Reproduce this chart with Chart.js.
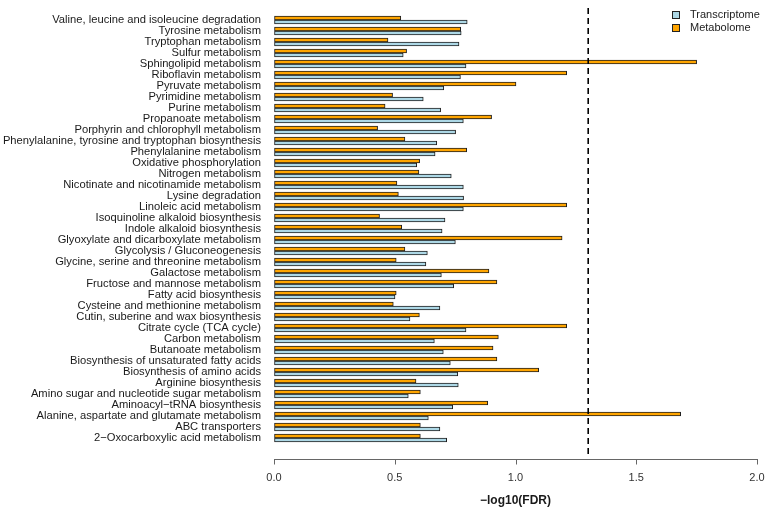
<!DOCTYPE html>
<html>
<head>
<meta charset="utf-8">
<script src="https://cdn.jsdelivr.net/npm/chart.js@4"></script>
<style>
  body { margin: 0; background: #fff; }
  canvas { display: block; }
</style>
</head>
<body>
<canvas id="fdrChart" width="767" height="513"></canvas>
<script>
var pathways = [
    'Valine, leucine and isoleucine degradation',
    'Tyrosine metabolism',
    'Tryptophan metabolism',
    'Sulfur metabolism',
    'Sphingolipid metabolism',
    'Riboflavin metabolism',
    'Pyruvate metabolism',
    'Pyrimidine metabolism',
    'Purine metabolism',
    'Propanoate metabolism',
    'Porphyrin and chlorophyll metabolism',
    'Phenylalanine, tyrosine and tryptophan biosynthesis',
    'Phenylalanine metabolism',
    'Oxidative phosphorylation',
    'Nitrogen metabolism',
    'Nicotinate and nicotinamide metabolism',
    'Lysine degradation',
    'Linoleic acid metabolism',
    'Isoquinoline alkaloid biosynthesis',
    'Indole alkaloid biosynthesis',
    'Glyoxylate and dicarboxylate metabolism',
    'Glycolysis / Gluconeogenesis',
    'Glycine, serine and threonine metabolism',
    'Galactose metabolism',
    'Fructose and mannose metabolism',
    'Fatty acid biosynthesis',
    'Cysteine and methionine metabolism',
    'Cutin, suberine and wax biosynthesis',
    'Citrate cycle (TCA cycle)',
    'Carbon metabolism',
    'Butanoate metabolism',
    'Biosynthesis of unsaturated fatty acids',
    'Biosynthesis of amino acids',
    'Arginine biosynthesis',
    'Amino sugar and nucleotide sugar metabolism',
    'Aminoacyl\u2212tRNA biosynthesis',
    'Alanine, aspartate and glutamate metabolism',
    'ABC transporters',
    '2\u2212Oxocarboxylic acid metabolism'
];

var transcriptome = [
    0.80, 0.775, 0.766, 0.535, 0.795, 0.772, 0.703, 0.618, 0.690, 0.784,
    0.752, 0.674, 0.667, 0.591, 0.734, 0.784, 0.785, 0.784, 0.708, 0.696,
    0.751, 0.635, 0.629, 0.693, 0.744, 0.501, 0.687, 0.563, 0.795, 0.664,
    0.701, 0.730, 0.761, 0.763, 0.556, 0.740, 0.639, 0.687, 0.715
];

var metabolome = [
    0.525, 0.773, 0.472, 0.549, 1.750, 1.212, 1.002, 0.491, 0.460, 0.901,
    0.429, 0.542, 0.798, 0.603, 0.600, 0.509, 0.515, 1.212, 0.437, 0.529,
    1.193, 0.542, 0.506, 0.890, 0.923, 0.506, 0.494, 0.602, 1.212, 0.929,
    0.907, 0.923, 1.096, 0.588, 0.606, 0.885, 1.684, 0.606, 0.606
];

var xTicks = [0, 0.5, 1, 1.5, 2];
var fdrCutoff = -Math.log10(0.05);

Chart.defaults.font.family = "'Liberation Sans', Arial, sans-serif";
Chart.defaults.font.size = 11;

// R-style axis line, dashed cutoff and legend
var extras = {
    id: 'extras',
    afterDraw: function (chart) {
        var ctx = chart.ctx;
        var area = chart.chartArea;
        var x = chart.scales.x;
        var axisY = Math.round(area.bottom + 15) + 0.5;

        ctx.save();
        ctx.strokeStyle = '#666';
        ctx.lineWidth = 1;
        ctx.beginPath();
        ctx.moveTo(x.getPixelForValue(xTicks[0]), axisY);
        ctx.lineTo(x.getPixelForValue(xTicks[xTicks.length - 1]) + 1, axisY);
        xTicks.forEach(function (v) {
            var px = Math.round(x.getPixelForValue(v)) + 0.5;
            ctx.moveTo(px, axisY);
            ctx.lineTo(px, axisY + 5);
        });
        ctx.stroke();

        var cx = x.getPixelForValue(fdrCutoff);
        ctx.strokeStyle = '#000';
        ctx.lineWidth = 1.6;
        ctx.setLineDash([6, 4]);
        ctx.beginPath();
        ctx.moveTo(cx, 8);
        ctx.lineTo(cx, axisY - 3);
        ctx.stroke();
        ctx.setLineDash([]);

        var items = [chart.data.datasets[1], chart.data.datasets[0]];
        ctx.font = "11px 'Liberation Sans', Arial, sans-serif";
        ctx.textBaseline = 'middle';
        items.forEach(function (ds, i) {
            var y = 15 + i * 13;
            ctx.fillStyle = ds.backgroundColor;
            ctx.fillRect(672, y - 4, 8, 8);
            ctx.strokeStyle = '#222';
            ctx.lineWidth = 1;
            ctx.strokeRect(672.5, y - 3.5, 7, 7);
            ctx.fillStyle = '#222';
            ctx.fillText(ds.label, 690, y);
        });
        ctx.restore();
    }
};

var ctx = document.getElementById('fdrChart').getContext('2d');
var chart = new Chart(ctx, {
    type: 'bar',
    data: {
        labels: pathways,
        datasets: [{
            label: 'Metabolome',
            data: metabolome,
            backgroundColor: '#FFA500',
            borderColor: '#1f1f1f',
            borderWidth: 1,
            borderSkipped: false,
            barThickness: 4
        }, {
            label: 'Transcriptome',
            data: transcriptome,
            backgroundColor: '#ADD8E6',
            borderColor: '#1f1f1f',
            borderWidth: 1,
            borderSkipped: false,
            barThickness: 4
        }]
    },
    options: {
        indexAxis: 'y',
        responsive: false,
        animation: false,
        layout: { padding: { top: 14.5, right: 10, left: 0, bottom: 0 } },
        plugins: {
            legend: { display: false },
            tooltip: { enabled: false }
        },
        scales: {
            x: {
                min: 0,
                max: 2,
                afterBuildTicks: function (s) {
                    s.ticks = xTicks.map(function (v) { return { value: v }; });
                },
                ticks: {
                    padding: 0,
                    color: '#333',
                    callback: function (v) { return Number(v).toFixed(1); }
                },
                // transparent tick marks just push the labels down
                grid: { drawOnChartArea: false, drawTicks: true, tickLength: 28, color: 'rgba(0,0,0,0)' },
                border: { display: false },
                title: {
                    display: true,
                    text: '\u2212log10(FDR)',
                    color: '#1a1a1a',
                    font: { size: 12, weight: 'bold' },
                    padding: { top: 0, bottom: 5 }
                },
                afterFit: function (s) { s.height = 69.5; }
            },
            y: {
                ticks: { autoSkip: false, color: '#1a1a1a', padding: 0, font: { size: 11.2 } },
                grid: { drawOnChartArea: false, drawTicks: true, tickLength: 13, color: 'rgba(0,0,0,0)' },
                border: { display: false },
                afterFit: function (s) { s.width = 274; }
            }
        }
    },
    plugins: [extras]
});
</script>
</body>
</html>
